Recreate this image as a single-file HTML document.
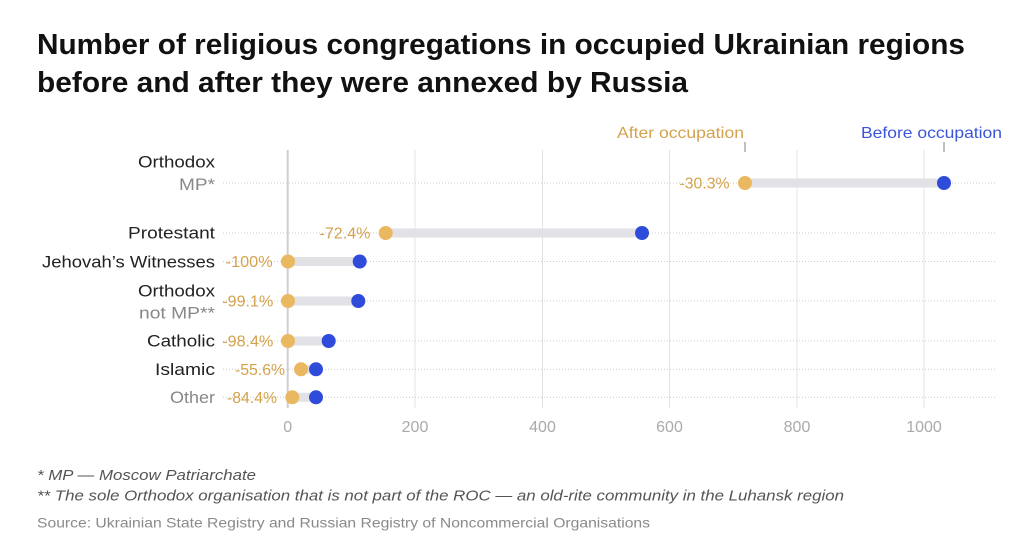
<!DOCTYPE html>
<html><head><meta charset="utf-8"><style>
html,body{margin:0;padding:0;background:#fff;}
svg{display:block;}
text{font-family:"Liberation Sans",Arial,sans-serif;}
</style></head><body>
<svg width="1024" height="546" viewBox="0 0 1024 546" xmlns="http://www.w3.org/2000/svg">
<rect width="1024" height="546" fill="#fff"/>
<!-- Title -->
<text x="37" y="54" font-size="29" font-weight="bold" fill="#111" textLength="928" lengthAdjust="spacingAndGlyphs">Number of religious congregations in occupied Ukrainian regions</text>
<text x="37" y="92" font-size="29" font-weight="bold" fill="#111" textLength="651" lengthAdjust="spacingAndGlyphs">before and after they were annexed by Russia</text>

<!-- Legend -->
<text x="617" y="138" font-size="16" fill="#d4a24c" textLength="127" lengthAdjust="spacingAndGlyphs">After occupation</text>
<text x="861" y="138" font-size="16" fill="#3a55d9" textLength="141" lengthAdjust="spacingAndGlyphs">Before occupation</text>
<line x1="745" y1="142" x2="745" y2="152" stroke="#aaa" stroke-width="1.5"/>
<line x1="944" y1="142" x2="944" y2="152" stroke="#aaa" stroke-width="1.5"/>

<!-- Gridlines -->
<g stroke="#e3e3e3" stroke-width="1">
<line x1="415" y1="150" x2="415" y2="408"/>
<line x1="542.5" y1="150" x2="542.5" y2="408"/>
<line x1="669.5" y1="150" x2="669.5" y2="408"/>
<line x1="797" y1="150" x2="797" y2="408"/>
<line x1="924" y1="150" x2="924" y2="408"/>
</g>
<line x1="287.7" y1="150" x2="287.7" y2="408" stroke="#cfcfcf" stroke-width="2"/>

<!-- Row dotted lines -->
<g stroke="#cccccc" stroke-width="1" stroke-dasharray="1,2">
<line x1="223" y1="183" x2="996" y2="183"/>
<line x1="223" y1="233" x2="996" y2="233"/>
<line x1="223" y1="261.5" x2="996" y2="261.5"/>
<line x1="223" y1="301" x2="996" y2="301"/>
<line x1="223" y1="341" x2="996" y2="341"/>
<line x1="223" y1="369.3" x2="996" y2="369.3"/>
<line x1="223" y1="397.3" x2="996" y2="397.3"/>
</g>

<!-- Category labels -->
<g font-size="17" text-anchor="end">
<text x="215" y="167.3" fill="#222" textLength="77" lengthAdjust="spacingAndGlyphs">Orthodox</text>
<text x="215" y="190" fill="#888" textLength="36" lengthAdjust="spacingAndGlyphs">MP*</text>
<text x="215" y="238.5" fill="#222" textLength="87" lengthAdjust="spacingAndGlyphs">Protestant</text>
<text x="215" y="267.3" fill="#222" textLength="173" lengthAdjust="spacingAndGlyphs">Jehovah’s Witnesses</text>
<text x="215" y="296.7" fill="#222" textLength="77" lengthAdjust="spacingAndGlyphs">Orthodox</text>
<text x="215" y="318.3" fill="#888" textLength="76" lengthAdjust="spacingAndGlyphs">not MP**</text>
<text x="215" y="346.7" fill="#222" textLength="68" lengthAdjust="spacingAndGlyphs">Catholic</text>
<text x="215" y="375" fill="#222" textLength="60" lengthAdjust="spacingAndGlyphs">Islamic</text>
<text x="215" y="403" fill="#888" textLength="45" lengthAdjust="spacingAndGlyphs">Other</text>
</g>

<!-- Bars -->
<g fill="#e2e2e6">
<rect x="745" y="178.5" width="199" height="9"/>
<rect x="385.7" y="228.5" width="256.3" height="9"/>
<rect x="288" y="257" width="71.7" height="9"/>
<rect x="288" y="296.5" width="70.3" height="9"/>
<rect x="288" y="336.5" width="40.7" height="9"/>
<rect x="301" y="364.8" width="15" height="9"/>
<rect x="292.3" y="392.8" width="23.7" height="9"/>
</g>

<!-- Dots: before -->
<g fill="#2f4bd9">
<circle cx="944" cy="183" r="7"/>
<circle cx="642" cy="233" r="7"/>
<circle cx="359.7" cy="261.5" r="7"/>
<circle cx="358.3" cy="301" r="7"/>
<circle cx="328.7" cy="341" r="7"/>
<circle cx="316" cy="369.3" r="7"/>
<circle cx="316" cy="397.3" r="7"/>
</g>
<!-- Dots: after -->
<g fill="#e9b860">
<circle cx="745" cy="183" r="7"/>
<circle cx="385.7" cy="233" r="7"/>
<circle cx="288" cy="261.5" r="7"/>
<circle cx="288" cy="301" r="7"/>
<circle cx="288" cy="341" r="7"/>
<circle cx="301" cy="369.3" r="7"/>
<circle cx="292.3" cy="397.3" r="7"/>
</g>

<!-- Value labels -->
<g font-size="16" fill="#d4a24c" text-anchor="end">
<text x="729.5" y="188.7" textLength="50" lengthAdjust="spacingAndGlyphs">-30.3%</text>
<text x="370.5" y="238.7" textLength="51" lengthAdjust="spacingAndGlyphs">-72.4%</text>
<text x="272.7" y="267.2" textLength="47" lengthAdjust="spacingAndGlyphs">-100%</text>
<text x="273.3" y="306.7" textLength="51" lengthAdjust="spacingAndGlyphs">-99.1%</text>
<text x="273.3" y="346.7" textLength="51" lengthAdjust="spacingAndGlyphs">-98.4%</text>
<text x="285" y="375" textLength="50" lengthAdjust="spacingAndGlyphs">-55.6%</text>
<text x="277" y="403" textLength="50" lengthAdjust="spacingAndGlyphs">-84.4%</text>
</g>

<!-- X tick labels -->
<g font-size="16" fill="#aaaaaa" text-anchor="middle">
<text x="287.7" y="432">0</text>
<text x="415" y="432">200</text>
<text x="542.5" y="432">400</text>
<text x="669.5" y="432">600</text>
<text x="797" y="432">800</text>
<text x="924" y="432">1000</text>
</g>

<!-- Footnotes -->
<text x="37" y="480" font-size="15" font-style="italic" fill="#555" textLength="219" lengthAdjust="spacingAndGlyphs">* MP — Moscow Patriarchate</text>
<text x="37" y="500.5" font-size="15" font-style="italic" fill="#555" textLength="807" lengthAdjust="spacingAndGlyphs">** The sole Orthodox organisation that is not part of the ROC — an old-rite community in the Luhansk region</text>
<text x="37" y="527.5" font-size="14" fill="#8a8a8a" textLength="613" lengthAdjust="spacingAndGlyphs">Source: Ukrainian State Registry and Russian Registry of Noncommercial Organisations</text>
</svg>
</body></html>
